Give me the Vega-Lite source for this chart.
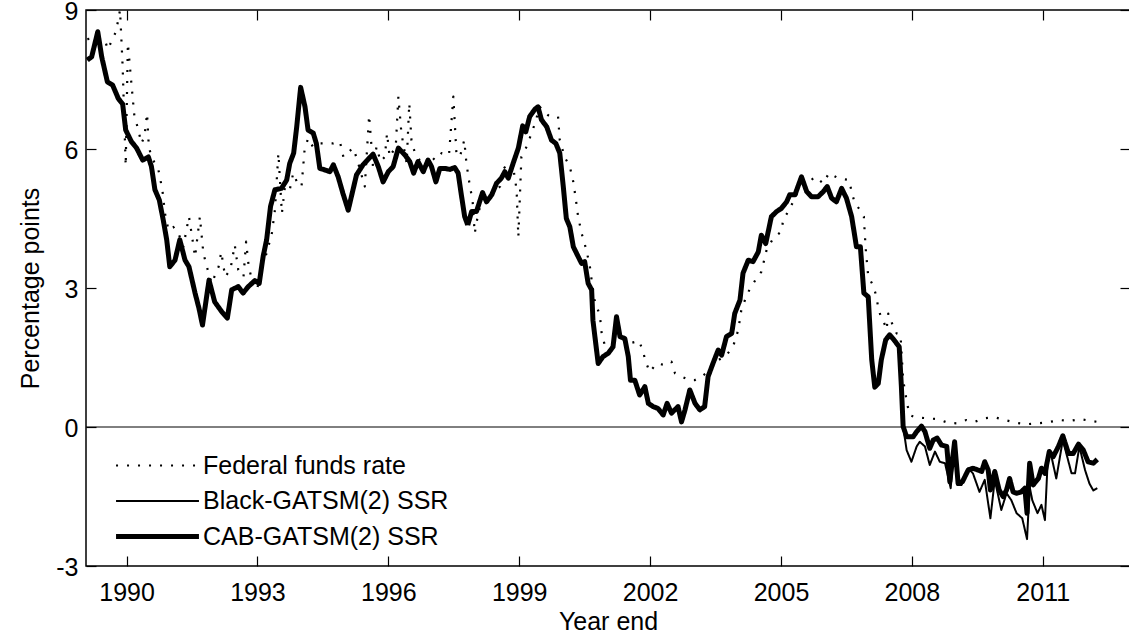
{
  "$schema": "https://vega.github.io/schema/vega-lite/v6.json",
  "width": 1044,
  "height": 556,
  "autosize": {"type": "none"},
  "padding": {"left": 86, "top": 10, "right": 0, "bottom": 72},
  "background": "white",
  "config": {
    "view": {"stroke": "black", "strokeWidth": 1.5},
    "font": "Liberation Sans",
    "axis": {"labelFont": "Liberation Sans", "labelFontSize": 25, "labelColor": "black", "titleFont": "Liberation Sans", "titleFontSize": 25, "titleFontWeight": "normal", "titleColor": "black", "tickColor": "black", "tickWidth": 1.2, "tickSize": -10, "domain": false, "grid": false},
    "legend": {"orient": "none", "legendX": 59, "legendY": 443, "padding": 0, "title": null, "symbolType": "M-5,0H5", "symbolSize": 275, "symbolStrokeColor": "black", "labelFont": "Liberation Sans", "labelFontSize": 25, "labelColor": "black", "labelOffset": 33, "labelLimit": 0, "rowPadding": 9.5}
  },
  "resolve": {"axis": {"x": "independent", "y": "independent"}},
  "layer": [
    {
      "data": {"values": [{"z": 0}]},
      "mark": {"type": "rule", "color": "black", "strokeWidth": 1},
      "encoding": {"y": {"field": "z", "type": "quantitative", "scale": {"domain": [-3, 9], "nice": false, "zero": false}, "axis": null}}
    },
    {
      "data": {"values": [
        {"t":1989.10,"s":"Federal funds rate","v":8.37},{"t":1989.30,"s":"Federal funds rate","v":8.40},{"t":1989.50,"s":"Federal funds rate","v":8.36},{"t":1989.57,"s":"Federal funds rate","v":8.15},{"t":1989.76,"s":"Federal funds rate","v":8.54},{"t":1989.85,"s":"Federal funds rate","v":9.00},{"t":1989.91,"s":"Federal funds rate","v":7.78},{"t":1989.98,"s":"Federal funds rate","v":5.64},{"t":1990.03,"s":"Federal funds rate","v":8.28},{"t":1990.11,"s":"Federal funds rate","v":7.42},{"t":1990.18,"s":"Federal funds rate","v":6.70},{"t":1990.26,"s":"Federal funds rate","v":6.45},{"t":1990.34,"s":"Federal funds rate","v":6.12},{"t":1990.41,"s":"Federal funds rate","v":6.27},{"t":1990.47,"s":"Federal funds rate","v":6.77},{"t":1990.51,"s":"Federal funds rate","v":6.05},{"t":1990.57,"s":"Federal funds rate","v":5.83},{"t":1990.73,"s":"Federal funds rate","v":5.55},{"t":1990.82,"s":"Federal funds rate","v":5.12},{"t":1990.88,"s":"Federal funds rate","v":4.61},{"t":1990.96,"s":"Federal funds rate","v":4.25},{"t":1991.07,"s":"Federal funds rate","v":4.32},{"t":1991.19,"s":"Federal funds rate","v":4.18},{"t":1991.30,"s":"Federal funds rate","v":3.89},{"t":1991.43,"s":"Federal funds rate","v":4.54},{"t":1991.49,"s":"Federal funds rate","v":4.18},{"t":1991.57,"s":"Federal funds rate","v":3.67},{"t":1991.68,"s":"Federal funds rate","v":4.54},{"t":1991.76,"s":"Federal funds rate","v":3.75},{"t":1991.84,"s":"Federal funds rate","v":3.46},{"t":1991.95,"s":"Federal funds rate","v":3.10},{"t":1992.11,"s":"Federal funds rate","v":3.46},{"t":1992.17,"s":"Federal funds rate","v":3.78},{"t":1992.26,"s":"Federal funds rate","v":3.24},{"t":1992.38,"s":"Federal funds rate","v":3.40},{"t":1992.48,"s":"Federal funds rate","v":3.93},{"t":1992.56,"s":"Federal funds rate","v":3.39},{"t":1992.68,"s":"Federal funds rate","v":3.24},{"t":1992.74,"s":"Federal funds rate","v":4.00},{"t":1992.80,"s":"Federal funds rate","v":3.46},{"t":1992.91,"s":"Federal funds rate","v":3.03},{"t":1992.99,"s":"Federal funds rate","v":2.96},{"t":1993.10,"s":"Federal funds rate","v":3.46},{"t":1993.21,"s":"Federal funds rate","v":3.75},{"t":1993.33,"s":"Federal funds rate","v":4.18},{"t":1993.40,"s":"Federal funds rate","v":4.68},{"t":1993.48,"s":"Federal funds rate","v":5.91},{"t":1993.56,"s":"Federal funds rate","v":4.61},{"t":1993.63,"s":"Federal funds rate","v":5.19},{"t":1993.74,"s":"Federal funds rate","v":5.12},{"t":1993.82,"s":"Federal funds rate","v":5.48},{"t":1993.93,"s":"Federal funds rate","v":5.23},{"t":1994.01,"s":"Federal funds rate","v":5.19},{"t":1994.08,"s":"Federal funds rate","v":5.98},{"t":1994.16,"s":"Federal funds rate","v":6.23},{"t":1994.27,"s":"Federal funds rate","v":6.05},{"t":1994.39,"s":"Federal funds rate","v":6.12},{"t":1994.54,"s":"Federal funds rate","v":6.12},{"t":1994.74,"s":"Federal funds rate","v":6.12},{"t":1994.89,"s":"Federal funds rate","v":6.16},{"t":1994.97,"s":"Federal funds rate","v":5.83},{"t":1995.10,"s":"Federal funds rate","v":5.95},{"t":1995.20,"s":"Federal funds rate","v":6.02},{"t":1995.31,"s":"Federal funds rate","v":5.69},{"t":1995.46,"s":"Federal funds rate","v":5.19},{"t":1995.56,"s":"Federal funds rate","v":6.73},{"t":1995.65,"s":"Federal funds rate","v":5.60},{"t":1995.73,"s":"Federal funds rate","v":6.05},{"t":1995.82,"s":"Federal funds rate","v":5.73},{"t":1995.92,"s":"Federal funds rate","v":5.83},{"t":1995.97,"s":"Federal funds rate","v":6.34},{"t":1996.03,"s":"Federal funds rate","v":5.83},{"t":1996.17,"s":"Federal funds rate","v":6.05},{"t":1996.23,"s":"Federal funds rate","v":7.13},{"t":1996.30,"s":"Federal funds rate","v":6.34},{"t":1996.42,"s":"Federal funds rate","v":5.69},{"t":1996.48,"s":"Federal funds rate","v":6.99},{"t":1996.53,"s":"Federal funds rate","v":6.19},{"t":1996.61,"s":"Federal funds rate","v":5.91},{"t":1996.72,"s":"Federal funds rate","v":5.76},{"t":1996.84,"s":"Federal funds rate","v":5.69},{"t":1996.95,"s":"Federal funds rate","v":5.87},{"t":1997.07,"s":"Federal funds rate","v":5.76},{"t":1997.22,"s":"Federal funds rate","v":5.91},{"t":1997.39,"s":"Federal funds rate","v":5.87},{"t":1997.49,"s":"Federal funds rate","v":7.13},{"t":1997.56,"s":"Federal funds rate","v":5.91},{"t":1997.64,"s":"Federal funds rate","v":5.83},{"t":1997.74,"s":"Federal funds rate","v":6.19},{"t":1997.79,"s":"Federal funds rate","v":5.69},{"t":1997.87,"s":"Federal funds rate","v":5.19},{"t":1997.93,"s":"Federal funds rate","v":4.90},{"t":1997.98,"s":"Federal funds rate","v":4.18},{"t":1998.06,"s":"Federal funds rate","v":4.61},{"t":1998.17,"s":"Federal funds rate","v":4.97},{"t":1998.29,"s":"Federal funds rate","v":5.05},{"t":1998.40,"s":"Federal funds rate","v":5.05},{"t":1998.56,"s":"Federal funds rate","v":5.19},{"t":1998.65,"s":"Federal funds rate","v":5.62},{"t":1998.75,"s":"Federal funds rate","v":5.48},{"t":1998.86,"s":"Federal funds rate","v":5.62},{"t":1998.94,"s":"Federal funds rate","v":5.12},{"t":1998.98,"s":"Federal funds rate","v":4.10},{"t":1999.05,"s":"Federal funds rate","v":5.83},{"t":1999.17,"s":"Federal funds rate","v":6.05},{"t":1999.24,"s":"Federal funds rate","v":6.23},{"t":1999.36,"s":"Federal funds rate","v":6.55},{"t":1999.47,"s":"Federal funds rate","v":6.91},{"t":1999.66,"s":"Federal funds rate","v":6.73},{"t":1999.89,"s":"Federal funds rate","v":6.70},{"t":1999.93,"s":"Federal funds rate","v":6.19},{"t":2000.04,"s":"Federal funds rate","v":5.83},{"t":2000.16,"s":"Federal funds rate","v":5.62},{"t":2000.24,"s":"Federal funds rate","v":5.29},{"t":2000.30,"s":"Federal funds rate","v":4.90},{"t":2000.35,"s":"Federal funds rate","v":4.54},{"t":2000.43,"s":"Federal funds rate","v":4.18},{"t":2000.54,"s":"Federal funds rate","v":3.82},{"t":2000.62,"s":"Federal funds rate","v":3.46},{"t":2000.68,"s":"Federal funds rate","v":3.03},{"t":2000.73,"s":"Federal funds rate","v":2.74},{"t":2000.85,"s":"Federal funds rate","v":2.40},{"t":2000.89,"s":"Federal funds rate","v":2.02},{"t":2000.96,"s":"Federal funds rate","v":1.77},{"t":2001.15,"s":"Federal funds rate","v":1.80},{"t":2001.38,"s":"Federal funds rate","v":1.88},{"t":2001.50,"s":"Federal funds rate","v":1.80},{"t":2001.75,"s":"Federal funds rate","v":1.86},{"t":2001.84,"s":"Federal funds rate","v":1.62},{"t":2001.90,"s":"Federal funds rate","v":1.41},{"t":2001.99,"s":"Federal funds rate","v":1.19},{"t":2002.15,"s":"Federal funds rate","v":1.37},{"t":2002.34,"s":"Federal funds rate","v":1.34},{"t":2002.49,"s":"Federal funds rate","v":1.41},{"t":2002.57,"s":"Federal funds rate","v":1.16},{"t":2002.72,"s":"Federal funds rate","v":1.09},{"t":2002.91,"s":"Federal funds rate","v":1.01},{"t":2003.02,"s":"Federal funds rate","v":1.01},{"t":2003.18,"s":"Federal funds rate","v":1.09},{"t":2003.33,"s":"Federal funds rate","v":1.19},{"t":2003.44,"s":"Federal funds rate","v":1.34},{"t":2003.56,"s":"Federal funds rate","v":1.44},{"t":2003.75,"s":"Federal funds rate","v":1.55},{"t":2003.90,"s":"Federal funds rate","v":1.73},{"t":2004.02,"s":"Federal funds rate","v":2.09},{"t":2004.09,"s":"Federal funds rate","v":2.52},{"t":2004.19,"s":"Federal funds rate","v":2.78},{"t":2004.29,"s":"Federal funds rate","v":2.99},{"t":2004.44,"s":"Federal funds rate","v":3.21},{"t":2004.55,"s":"Federal funds rate","v":3.35},{"t":2004.67,"s":"Federal funds rate","v":3.82},{"t":2004.82,"s":"Federal funds rate","v":4.07},{"t":2005.01,"s":"Federal funds rate","v":4.22},{"t":2005.05,"s":"Federal funds rate","v":4.47},{"t":2005.19,"s":"Federal funds rate","v":4.69},{"t":2005.39,"s":"Federal funds rate","v":5.08},{"t":2005.78,"s":"Federal funds rate","v":5.40},{"t":2005.97,"s":"Federal funds rate","v":5.26},{"t":2006.10,"s":"Federal funds rate","v":5.48},{"t":2006.31,"s":"Federal funds rate","v":5.37},{"t":2006.56,"s":"Federal funds rate","v":5.33},{"t":2006.62,"s":"Federal funds rate","v":5.08},{"t":2006.69,"s":"Federal funds rate","v":4.83},{"t":2006.81,"s":"Federal funds rate","v":4.69},{"t":2006.90,"s":"Federal funds rate","v":4.54},{"t":2006.92,"s":"Federal funds rate","v":4.18},{"t":2006.95,"s":"Federal funds rate","v":3.75},{"t":2007.00,"s":"Federal funds rate","v":3.25},{"t":2007.11,"s":"Federal funds rate","v":3.06},{"t":2007.19,"s":"Federal funds rate","v":2.81},{"t":2007.23,"s":"Federal funds rate","v":2.56},{"t":2007.30,"s":"Federal funds rate","v":2.35},{"t":2007.34,"s":"Federal funds rate","v":2.31},{"t":2007.42,"s":"Federal funds rate","v":2.10},{"t":2007.46,"s":"Federal funds rate","v":2.45},{"t":2007.53,"s":"Federal funds rate","v":2.27},{"t":2007.65,"s":"Federal funds rate","v":2.02},{"t":2007.74,"s":"Federal funds rate","v":1.99},{"t":2007.80,"s":"Federal funds rate","v":1.02},{"t":2007.89,"s":"Federal funds rate","v":0.51},{"t":2007.95,"s":"Federal funds rate","v":0.26},{"t":2008.07,"s":"Federal funds rate","v":0.21},{"t":2008.33,"s":"Federal funds rate","v":0.19},{"t":2008.60,"s":"Federal funds rate","v":0.17},{"t":2008.83,"s":"Federal funds rate","v":0.09},{"t":2009.02,"s":"Federal funds rate","v":0.08},{"t":2009.25,"s":"Federal funds rate","v":0.15},{"t":2009.44,"s":"Federal funds rate","v":0.11},{"t":2009.67,"s":"Federal funds rate","v":0.19},{"t":2009.90,"s":"Federal funds rate","v":0.21},{"t":2010.13,"s":"Federal funds rate","v":0.15},{"t":2010.40,"s":"Federal funds rate","v":0.09},{"t":2010.63,"s":"Federal funds rate","v":0.06},{"t":2010.89,"s":"Federal funds rate","v":0.08},{"t":2011.16,"s":"Federal funds rate","v":0.11},{"t":2011.39,"s":"Federal funds rate","v":0.15},{"t":2011.62,"s":"Federal funds rate","v":0.13},{"t":2011.85,"s":"Federal funds rate","v":0.17},{"t":2012.12,"s":"Federal funds rate","v":0.13},{"t":2012.38,"s":"Federal funds rate","v":0.09},

        {"t":1989.10,"s":"Black-GATSM(2) SSR","v":7.92},{"t":1989.20,"s":"Black-GATSM(2) SSR","v":7.99},{"t":1989.34,"s":"Black-GATSM(2) SSR","v":8.53},{"t":1989.43,"s":"Black-GATSM(2) SSR","v":7.99},{"t":1989.56,"s":"Black-GATSM(2) SSR","v":7.45},{"t":1989.68,"s":"Black-GATSM(2) SSR","v":7.38},{"t":1989.81,"s":"Black-GATSM(2) SSR","v":7.09},{"t":1989.91,"s":"Black-GATSM(2) SSR","v":6.97},{"t":1989.98,"s":"Black-GATSM(2) SSR","v":6.41},{"t":1990.11,"s":"Black-GATSM(2) SSR","v":6.16},{"t":1990.23,"s":"Black-GATSM(2) SSR","v":6.02},{"t":1990.37,"s":"Black-GATSM(2) SSR","v":5.76},{"t":1990.50,"s":"Black-GATSM(2) SSR","v":5.83},{"t":1990.57,"s":"Black-GATSM(2) SSR","v":5.62},{"t":1990.65,"s":"Black-GATSM(2) SSR","v":5.12},{"t":1990.75,"s":"Black-GATSM(2) SSR","v":4.90},{"t":1990.84,"s":"Black-GATSM(2) SSR","v":4.47},{"t":1990.92,"s":"Black-GATSM(2) SSR","v":4.04},{"t":1990.99,"s":"Black-GATSM(2) SSR","v":3.46},{"t":1991.11,"s":"Black-GATSM(2) SSR","v":3.60},{"t":1991.22,"s":"Black-GATSM(2) SSR","v":4.04},{"t":1991.34,"s":"Black-GATSM(2) SSR","v":3.60},{"t":1991.43,"s":"Black-GATSM(2) SSR","v":3.46},{"t":1991.57,"s":"Black-GATSM(2) SSR","v":2.89},{"t":1991.66,"s":"Black-GATSM(2) SSR","v":2.56},{"t":1991.74,"s":"Black-GATSM(2) SSR","v":2.20},{"t":1991.89,"s":"Black-GATSM(2) SSR","v":3.17},{"t":1992.02,"s":"Black-GATSM(2) SSR","v":2.70},{"t":1992.18,"s":"Black-GATSM(2) SSR","v":2.49},{"t":1992.31,"s":"Black-GATSM(2) SSR","v":2.35},{"t":1992.41,"s":"Black-GATSM(2) SSR","v":2.96},{"t":1992.56,"s":"Black-GATSM(2) SSR","v":3.03},{"t":1992.67,"s":"Black-GATSM(2) SSR","v":2.89},{"t":1992.79,"s":"Black-GATSM(2) SSR","v":3.03},{"t":1992.94,"s":"Black-GATSM(2) SSR","v":3.16},{"t":1993.04,"s":"Black-GATSM(2) SSR","v":3.10},{"t":1993.13,"s":"Black-GATSM(2) SSR","v":3.68},{"t":1993.21,"s":"Black-GATSM(2) SSR","v":4.04},{"t":1993.30,"s":"Black-GATSM(2) SSR","v":4.76},{"t":1993.40,"s":"Black-GATSM(2) SSR","v":5.12},{"t":1993.55,"s":"Black-GATSM(2) SSR","v":5.15},{"t":1993.67,"s":"Black-GATSM(2) SSR","v":5.33},{"t":1993.74,"s":"Black-GATSM(2) SSR","v":5.69},{"t":1993.83,"s":"Black-GATSM(2) SSR","v":5.91},{"t":1993.90,"s":"Black-GATSM(2) SSR","v":6.48},{"t":1993.99,"s":"Black-GATSM(2) SSR","v":7.33},{"t":1994.09,"s":"Black-GATSM(2) SSR","v":6.91},{"t":1994.16,"s":"Black-GATSM(2) SSR","v":6.41},{"t":1994.28,"s":"Black-GATSM(2) SSR","v":6.34},{"t":1994.35,"s":"Black-GATSM(2) SSR","v":6.12},{"t":1994.43,"s":"Black-GATSM(2) SSR","v":5.58},{"t":1994.54,"s":"Black-GATSM(2) SSR","v":5.55},{"t":1994.66,"s":"Black-GATSM(2) SSR","v":5.51},{"t":1994.74,"s":"Black-GATSM(2) SSR","v":5.66},{"t":1994.85,"s":"Black-GATSM(2) SSR","v":5.40},{"t":1994.96,"s":"Black-GATSM(2) SSR","v":5.04},{"t":1995.08,"s":"Black-GATSM(2) SSR","v":4.68},{"t":1995.19,"s":"Black-GATSM(2) SSR","v":5.12},{"t":1995.27,"s":"Black-GATSM(2) SSR","v":5.44},{"t":1995.42,"s":"Black-GATSM(2) SSR","v":5.66},{"t":1995.52,"s":"Black-GATSM(2) SSR","v":5.76},{"t":1995.65,"s":"Black-GATSM(2) SSR","v":5.89},{"t":1995.77,"s":"Black-GATSM(2) SSR","v":5.62},{"t":1995.88,"s":"Black-GATSM(2) SSR","v":5.29},{"t":1996.00,"s":"Black-GATSM(2) SSR","v":5.51},{"t":1996.11,"s":"Black-GATSM(2) SSR","v":5.62},{"t":1996.23,"s":"Black-GATSM(2) SSR","v":6.02},{"t":1996.38,"s":"Black-GATSM(2) SSR","v":5.87},{"t":1996.49,"s":"Black-GATSM(2) SSR","v":5.73},{"t":1996.58,"s":"Black-GATSM(2) SSR","v":5.48},{"t":1996.68,"s":"Black-GATSM(2) SSR","v":5.73},{"t":1996.80,"s":"Black-GATSM(2) SSR","v":5.51},{"t":1996.91,"s":"Black-GATSM(2) SSR","v":5.76},{"t":1996.99,"s":"Black-GATSM(2) SSR","v":5.62},{"t":1997.09,"s":"Black-GATSM(2) SSR","v":5.29},{"t":1997.18,"s":"Black-GATSM(2) SSR","v":5.58},{"t":1997.30,"s":"Black-GATSM(2) SSR","v":5.58},{"t":1997.41,"s":"Black-GATSM(2) SSR","v":5.56},{"t":1997.52,"s":"Black-GATSM(2) SSR","v":5.60},{"t":1997.60,"s":"Black-GATSM(2) SSR","v":5.48},{"t":1997.68,"s":"Black-GATSM(2) SSR","v":4.97},{"t":1997.75,"s":"Black-GATSM(2) SSR","v":4.54},{"t":1997.82,"s":"Black-GATSM(2) SSR","v":4.36},{"t":1997.91,"s":"Black-GATSM(2) SSR","v":4.65},{"t":1998.02,"s":"Black-GATSM(2) SSR","v":4.65},{"t":1998.16,"s":"Black-GATSM(2) SSR","v":5.06},{"t":1998.25,"s":"Black-GATSM(2) SSR","v":4.86},{"t":1998.37,"s":"Black-GATSM(2) SSR","v":5.01},{"t":1998.48,"s":"Black-GATSM(2) SSR","v":5.26},{"t":1998.59,"s":"Black-GATSM(2) SSR","v":5.37},{"t":1998.67,"s":"Black-GATSM(2) SSR","v":5.51},{"t":1998.75,"s":"Black-GATSM(2) SSR","v":5.37},{"t":1998.86,"s":"Black-GATSM(2) SSR","v":5.69},{"t":1998.98,"s":"Black-GATSM(2) SSR","v":6.02},{"t":1999.08,"s":"Black-GATSM(2) SSR","v":6.50},{"t":1999.15,"s":"Black-GATSM(2) SSR","v":6.37},{"t":1999.24,"s":"Black-GATSM(2) SSR","v":6.70},{"t":1999.36,"s":"Black-GATSM(2) SSR","v":6.86},{"t":1999.43,"s":"Black-GATSM(2) SSR","v":6.91},{"t":1999.51,"s":"Black-GATSM(2) SSR","v":6.63},{"t":1999.63,"s":"Black-GATSM(2) SSR","v":6.48},{"t":1999.74,"s":"Black-GATSM(2) SSR","v":6.19},{"t":1999.84,"s":"Black-GATSM(2) SSR","v":6.12},{"t":1999.93,"s":"Black-GATSM(2) SSR","v":5.91},{"t":2000.01,"s":"Black-GATSM(2) SSR","v":5.19},{"t":2000.08,"s":"Black-GATSM(2) SSR","v":4.50},{"t":2000.16,"s":"Black-GATSM(2) SSR","v":4.32},{"t":2000.24,"s":"Black-GATSM(2) SSR","v":3.89},{"t":2000.35,"s":"Black-GATSM(2) SSR","v":3.68},{"t":2000.43,"s":"Black-GATSM(2) SSR","v":3.53},{"t":2000.50,"s":"Black-GATSM(2) SSR","v":3.57},{"t":2000.58,"s":"Black-GATSM(2) SSR","v":3.10},{"t":2000.66,"s":"Black-GATSM(2) SSR","v":2.96},{"t":2000.69,"s":"Black-GATSM(2) SSR","v":2.30},{"t":2000.81,"s":"Black-GATSM(2) SSR","v":1.37},{"t":2000.92,"s":"Black-GATSM(2) SSR","v":1.52},{"t":2001.04,"s":"Black-GATSM(2) SSR","v":1.59},{"t":2001.15,"s":"Black-GATSM(2) SSR","v":1.73},{"t":2001.23,"s":"Black-GATSM(2) SSR","v":2.38},{"t":2001.31,"s":"Black-GATSM(2) SSR","v":1.95},{"t":2001.42,"s":"Black-GATSM(2) SSR","v":1.91},{"t":2001.50,"s":"Black-GATSM(2) SSR","v":1.52},{"t":2001.55,"s":"Black-GATSM(2) SSR","v":1.01},{"t":2001.65,"s":"Black-GATSM(2) SSR","v":1.01},{"t":2001.76,"s":"Black-GATSM(2) SSR","v":0.69},{"t":2001.88,"s":"Black-GATSM(2) SSR","v":0.87},{"t":2001.96,"s":"Black-GATSM(2) SSR","v":0.51},{"t":2002.07,"s":"Black-GATSM(2) SSR","v":0.44},{"t":2002.18,"s":"Black-GATSM(2) SSR","v":0.40},{"t":2002.30,"s":"Black-GATSM(2) SSR","v":0.26},{"t":2002.39,"s":"Black-GATSM(2) SSR","v":0.51},{"t":2002.49,"s":"Black-GATSM(2) SSR","v":0.30},{"t":2002.64,"s":"Black-GATSM(2) SSR","v":0.44},{"t":2002.72,"s":"Black-GATSM(2) SSR","v":0.11},{"t":2002.80,"s":"Black-GATSM(2) SSR","v":0.37},{"t":2002.91,"s":"Black-GATSM(2) SSR","v":0.80},{"t":2003.03,"s":"Black-GATSM(2) SSR","v":0.51},{"t":2003.14,"s":"Black-GATSM(2) SSR","v":0.37},{"t":2003.25,"s":"Black-GATSM(2) SSR","v":0.44},{"t":2003.33,"s":"Black-GATSM(2) SSR","v":1.09},{"t":2003.44,"s":"Black-GATSM(2) SSR","v":1.37},{"t":2003.56,"s":"Black-GATSM(2) SSR","v":1.66},{"t":2003.64,"s":"Black-GATSM(2) SSR","v":1.55},{"t":2003.75,"s":"Black-GATSM(2) SSR","v":1.95},{"t":2003.87,"s":"Black-GATSM(2) SSR","v":2.02},{"t":2003.94,"s":"Black-GATSM(2) SSR","v":2.45},{"t":2004.06,"s":"Black-GATSM(2) SSR","v":2.74},{"t":2004.13,"s":"Black-GATSM(2) SSR","v":3.32},{"t":2004.25,"s":"Black-GATSM(2) SSR","v":3.60},{"t":2004.36,"s":"Black-GATSM(2) SSR","v":3.57},{"t":2004.48,"s":"Black-GATSM(2) SSR","v":3.78},{"t":2004.55,"s":"Black-GATSM(2) SSR","v":4.14},{"t":2004.65,"s":"Black-GATSM(2) SSR","v":3.96},{"t":2004.78,"s":"Black-GATSM(2) SSR","v":4.54},{"t":2004.90,"s":"Black-GATSM(2) SSR","v":4.65},{"t":2005.01,"s":"Black-GATSM(2) SSR","v":4.72},{"t":2005.13,"s":"Black-GATSM(2) SSR","v":4.86},{"t":2005.20,"s":"Black-GATSM(2) SSR","v":5.01},{"t":2005.32,"s":"Black-GATSM(2) SSR","v":5.01},{"t":2005.47,"s":"Black-GATSM(2) SSR","v":5.40},{"t":2005.59,"s":"Black-GATSM(2) SSR","v":5.08},{"t":2005.70,"s":"Black-GATSM(2) SSR","v":4.97},{"t":2005.85,"s":"Black-GATSM(2) SSR","v":4.97},{"t":2005.97,"s":"Black-GATSM(2) SSR","v":5.08},{"t":2006.06,"s":"Black-GATSM(2) SSR","v":5.19},{"t":2006.16,"s":"Black-GATSM(2) SSR","v":4.94},{"t":2006.27,"s":"Black-GATSM(2) SSR","v":4.86},{"t":2006.39,"s":"Black-GATSM(2) SSR","v":5.15},{"t":2006.50,"s":"Black-GATSM(2) SSR","v":4.94},{"t":2006.62,"s":"Black-GATSM(2) SSR","v":4.54},{"t":2006.73,"s":"Black-GATSM(2) SSR","v":3.89},{"t":2006.82,"s":"Black-GATSM(2) SSR","v":3.89},{"t":2006.90,"s":"Black-GATSM(2) SSR","v":2.89},{"t":2007.00,"s":"Black-GATSM(2) SSR","v":2.81},{"t":2007.08,"s":"Black-GATSM(2) SSR","v":1.45},{"t":2007.15,"s":"Black-GATSM(2) SSR","v":0.86},{"t":2007.23,"s":"Black-GATSM(2) SSR","v":0.94},{"t":2007.30,"s":"Black-GATSM(2) SSR","v":1.45},{"t":2007.40,"s":"Black-GATSM(2) SSR","v":1.88},{"t":2007.49,"s":"Black-GATSM(2) SSR","v":1.99},{"t":2007.59,"s":"Black-GATSM(2) SSR","v":1.88},{"t":2007.71,"s":"Black-GATSM(2) SSR","v":1.73},{"t":2007.76,"s":"Black-GATSM(2) SSR","v":0.87},{"t":2007.80,"s":"Black-GATSM(2) SSR","v":0.01},{"t":2007.88,"s":"Black-GATSM(2) SSR","v":-0.50},{"t":2007.99,"s":"Black-GATSM(2) SSR","v":-0.75},{"t":2008.11,"s":"Black-GATSM(2) SSR","v":-0.42},{"t":2008.18,"s":"Black-GATSM(2) SSR","v":-0.32},{"t":2008.30,"s":"Black-GATSM(2) SSR","v":-0.42},{"t":2008.41,"s":"Black-GATSM(2) SSR","v":-0.82},{"t":2008.53,"s":"Black-GATSM(2) SSR","v":-0.53},{"t":2008.64,"s":"Black-GATSM(2) SSR","v":-0.75},{"t":2008.76,"s":"Black-GATSM(2) SSR","v":-0.78},{"t":2008.89,"s":"Black-GATSM(2) SSR","v":-1.32},{"t":2008.98,"s":"Black-GATSM(2) SSR","v":-0.32},{"t":2009.05,"s":"Black-GATSM(2) SSR","v":-1.25},{"t":2009.14,"s":"Black-GATSM(2) SSR","v":-1.25},{"t":2009.29,"s":"Black-GATSM(2) SSR","v":-0.89},{"t":2009.40,"s":"Black-GATSM(2) SSR","v":-1.00},{"t":2009.55,"s":"Black-GATSM(2) SSR","v":-1.40},{"t":2009.67,"s":"Black-GATSM(2) SSR","v":-1.14},{"t":2009.80,"s":"Black-GATSM(2) SSR","v":-1.97},{"t":2009.90,"s":"Black-GATSM(2) SSR","v":-1.14},{"t":2010.05,"s":"Black-GATSM(2) SSR","v":-1.79},{"t":2010.17,"s":"Black-GATSM(2) SSR","v":-1.43},{"t":2010.28,"s":"Black-GATSM(2) SSR","v":-1.58},{"t":2010.40,"s":"Black-GATSM(2) SSR","v":-1.86},{"t":2010.53,"s":"Black-GATSM(2) SSR","v":-1.97},{"t":2010.64,"s":"Black-GATSM(2) SSR","v":-2.42},{"t":2010.70,"s":"Black-GATSM(2) SSR","v":-1.29},{"t":2010.76,"s":"Black-GATSM(2) SSR","v":-1.58},{"t":2010.88,"s":"Black-GATSM(2) SSR","v":-1.86},{"t":2010.97,"s":"Black-GATSM(2) SSR","v":-1.68},{"t":2011.05,"s":"Black-GATSM(2) SSR","v":-2.01},{"t":2011.12,"s":"Black-GATSM(2) SSR","v":-0.60},{"t":2011.20,"s":"Black-GATSM(2) SSR","v":-0.64},{"t":2011.31,"s":"Black-GATSM(2) SSR","v":-1.11},{"t":2011.46,"s":"Black-GATSM(2) SSR","v":-0.28},{"t":2011.56,"s":"Black-GATSM(2) SSR","v":-0.64},{"t":2011.66,"s":"Black-GATSM(2) SSR","v":-1.00},{"t":2011.74,"s":"Black-GATSM(2) SSR","v":-1.00},{"t":2011.84,"s":"Black-GATSM(2) SSR","v":-0.42},{"t":2011.97,"s":"Black-GATSM(2) SSR","v":-0.93},{"t":2012.07,"s":"Black-GATSM(2) SSR","v":-1.22},{"t":2012.16,"s":"Black-GATSM(2) SSR","v":-1.37},{"t":2012.25,"s":"Black-GATSM(2) SSR","v":-1.32},

        {"t":1989.10,"s":"CAB-GATSM(2) SSR","v":7.92},{"t":1989.20,"s":"CAB-GATSM(2) SSR","v":7.99},{"t":1989.34,"s":"CAB-GATSM(2) SSR","v":8.53},{"t":1989.43,"s":"CAB-GATSM(2) SSR","v":7.99},{"t":1989.56,"s":"CAB-GATSM(2) SSR","v":7.45},{"t":1989.68,"s":"CAB-GATSM(2) SSR","v":7.38},{"t":1989.81,"s":"CAB-GATSM(2) SSR","v":7.09},{"t":1989.91,"s":"CAB-GATSM(2) SSR","v":6.97},{"t":1989.98,"s":"CAB-GATSM(2) SSR","v":6.41},{"t":1990.11,"s":"CAB-GATSM(2) SSR","v":6.16},{"t":1990.23,"s":"CAB-GATSM(2) SSR","v":6.02},{"t":1990.37,"s":"CAB-GATSM(2) SSR","v":5.76},{"t":1990.50,"s":"CAB-GATSM(2) SSR","v":5.83},{"t":1990.57,"s":"CAB-GATSM(2) SSR","v":5.62},{"t":1990.65,"s":"CAB-GATSM(2) SSR","v":5.12},{"t":1990.75,"s":"CAB-GATSM(2) SSR","v":4.90},{"t":1990.84,"s":"CAB-GATSM(2) SSR","v":4.47},{"t":1990.92,"s":"CAB-GATSM(2) SSR","v":4.04},{"t":1990.99,"s":"CAB-GATSM(2) SSR","v":3.46},{"t":1991.11,"s":"CAB-GATSM(2) SSR","v":3.60},{"t":1991.22,"s":"CAB-GATSM(2) SSR","v":4.04},{"t":1991.34,"s":"CAB-GATSM(2) SSR","v":3.60},{"t":1991.43,"s":"CAB-GATSM(2) SSR","v":3.46},{"t":1991.57,"s":"CAB-GATSM(2) SSR","v":2.89},{"t":1991.66,"s":"CAB-GATSM(2) SSR","v":2.56},{"t":1991.74,"s":"CAB-GATSM(2) SSR","v":2.20},{"t":1991.89,"s":"CAB-GATSM(2) SSR","v":3.17},{"t":1992.02,"s":"CAB-GATSM(2) SSR","v":2.70},{"t":1992.18,"s":"CAB-GATSM(2) SSR","v":2.49},{"t":1992.31,"s":"CAB-GATSM(2) SSR","v":2.35},{"t":1992.41,"s":"CAB-GATSM(2) SSR","v":2.96},{"t":1992.56,"s":"CAB-GATSM(2) SSR","v":3.03},{"t":1992.67,"s":"CAB-GATSM(2) SSR","v":2.89},{"t":1992.79,"s":"CAB-GATSM(2) SSR","v":3.03},{"t":1992.94,"s":"CAB-GATSM(2) SSR","v":3.16},{"t":1993.04,"s":"CAB-GATSM(2) SSR","v":3.10},{"t":1993.13,"s":"CAB-GATSM(2) SSR","v":3.68},{"t":1993.21,"s":"CAB-GATSM(2) SSR","v":4.04},{"t":1993.30,"s":"CAB-GATSM(2) SSR","v":4.76},{"t":1993.40,"s":"CAB-GATSM(2) SSR","v":5.12},{"t":1993.55,"s":"CAB-GATSM(2) SSR","v":5.15},{"t":1993.67,"s":"CAB-GATSM(2) SSR","v":5.33},{"t":1993.74,"s":"CAB-GATSM(2) SSR","v":5.69},{"t":1993.83,"s":"CAB-GATSM(2) SSR","v":5.91},{"t":1993.90,"s":"CAB-GATSM(2) SSR","v":6.48},{"t":1993.99,"s":"CAB-GATSM(2) SSR","v":7.33},{"t":1994.09,"s":"CAB-GATSM(2) SSR","v":6.91},{"t":1994.16,"s":"CAB-GATSM(2) SSR","v":6.41},{"t":1994.28,"s":"CAB-GATSM(2) SSR","v":6.34},{"t":1994.35,"s":"CAB-GATSM(2) SSR","v":6.12},{"t":1994.43,"s":"CAB-GATSM(2) SSR","v":5.58},{"t":1994.54,"s":"CAB-GATSM(2) SSR","v":5.55},{"t":1994.66,"s":"CAB-GATSM(2) SSR","v":5.51},{"t":1994.74,"s":"CAB-GATSM(2) SSR","v":5.66},{"t":1994.85,"s":"CAB-GATSM(2) SSR","v":5.40},{"t":1994.96,"s":"CAB-GATSM(2) SSR","v":5.04},{"t":1995.08,"s":"CAB-GATSM(2) SSR","v":4.68},{"t":1995.19,"s":"CAB-GATSM(2) SSR","v":5.12},{"t":1995.27,"s":"CAB-GATSM(2) SSR","v":5.44},{"t":1995.42,"s":"CAB-GATSM(2) SSR","v":5.66},{"t":1995.52,"s":"CAB-GATSM(2) SSR","v":5.76},{"t":1995.65,"s":"CAB-GATSM(2) SSR","v":5.89},{"t":1995.77,"s":"CAB-GATSM(2) SSR","v":5.62},{"t":1995.88,"s":"CAB-GATSM(2) SSR","v":5.29},{"t":1996.00,"s":"CAB-GATSM(2) SSR","v":5.51},{"t":1996.11,"s":"CAB-GATSM(2) SSR","v":5.62},{"t":1996.23,"s":"CAB-GATSM(2) SSR","v":6.02},{"t":1996.38,"s":"CAB-GATSM(2) SSR","v":5.87},{"t":1996.49,"s":"CAB-GATSM(2) SSR","v":5.73},{"t":1996.58,"s":"CAB-GATSM(2) SSR","v":5.48},{"t":1996.68,"s":"CAB-GATSM(2) SSR","v":5.73},{"t":1996.80,"s":"CAB-GATSM(2) SSR","v":5.51},{"t":1996.91,"s":"CAB-GATSM(2) SSR","v":5.76},{"t":1996.99,"s":"CAB-GATSM(2) SSR","v":5.62},{"t":1997.09,"s":"CAB-GATSM(2) SSR","v":5.29},{"t":1997.18,"s":"CAB-GATSM(2) SSR","v":5.58},{"t":1997.30,"s":"CAB-GATSM(2) SSR","v":5.58},{"t":1997.41,"s":"CAB-GATSM(2) SSR","v":5.56},{"t":1997.52,"s":"CAB-GATSM(2) SSR","v":5.60},{"t":1997.60,"s":"CAB-GATSM(2) SSR","v":5.48},{"t":1997.68,"s":"CAB-GATSM(2) SSR","v":4.97},{"t":1997.75,"s":"CAB-GATSM(2) SSR","v":4.54},{"t":1997.82,"s":"CAB-GATSM(2) SSR","v":4.36},{"t":1997.91,"s":"CAB-GATSM(2) SSR","v":4.65},{"t":1998.02,"s":"CAB-GATSM(2) SSR","v":4.65},{"t":1998.16,"s":"CAB-GATSM(2) SSR","v":5.06},{"t":1998.25,"s":"CAB-GATSM(2) SSR","v":4.86},{"t":1998.37,"s":"CAB-GATSM(2) SSR","v":5.01},{"t":1998.48,"s":"CAB-GATSM(2) SSR","v":5.26},{"t":1998.59,"s":"CAB-GATSM(2) SSR","v":5.37},{"t":1998.67,"s":"CAB-GATSM(2) SSR","v":5.51},{"t":1998.75,"s":"CAB-GATSM(2) SSR","v":5.37},{"t":1998.86,"s":"CAB-GATSM(2) SSR","v":5.69},{"t":1998.98,"s":"CAB-GATSM(2) SSR","v":6.02},{"t":1999.08,"s":"CAB-GATSM(2) SSR","v":6.50},{"t":1999.15,"s":"CAB-GATSM(2) SSR","v":6.37},{"t":1999.24,"s":"CAB-GATSM(2) SSR","v":6.70},{"t":1999.36,"s":"CAB-GATSM(2) SSR","v":6.86},{"t":1999.43,"s":"CAB-GATSM(2) SSR","v":6.91},{"t":1999.51,"s":"CAB-GATSM(2) SSR","v":6.63},{"t":1999.63,"s":"CAB-GATSM(2) SSR","v":6.48},{"t":1999.74,"s":"CAB-GATSM(2) SSR","v":6.19},{"t":1999.84,"s":"CAB-GATSM(2) SSR","v":6.12},{"t":1999.93,"s":"CAB-GATSM(2) SSR","v":5.91},{"t":2000.01,"s":"CAB-GATSM(2) SSR","v":5.19},{"t":2000.08,"s":"CAB-GATSM(2) SSR","v":4.50},{"t":2000.16,"s":"CAB-GATSM(2) SSR","v":4.32},{"t":2000.24,"s":"CAB-GATSM(2) SSR","v":3.89},{"t":2000.35,"s":"CAB-GATSM(2) SSR","v":3.68},{"t":2000.43,"s":"CAB-GATSM(2) SSR","v":3.53},{"t":2000.50,"s":"CAB-GATSM(2) SSR","v":3.57},{"t":2000.58,"s":"CAB-GATSM(2) SSR","v":3.10},{"t":2000.66,"s":"CAB-GATSM(2) SSR","v":2.96},{"t":2000.69,"s":"CAB-GATSM(2) SSR","v":2.30},{"t":2000.81,"s":"CAB-GATSM(2) SSR","v":1.37},{"t":2000.92,"s":"CAB-GATSM(2) SSR","v":1.52},{"t":2001.04,"s":"CAB-GATSM(2) SSR","v":1.59},{"t":2001.15,"s":"CAB-GATSM(2) SSR","v":1.73},{"t":2001.23,"s":"CAB-GATSM(2) SSR","v":2.38},{"t":2001.31,"s":"CAB-GATSM(2) SSR","v":1.95},{"t":2001.42,"s":"CAB-GATSM(2) SSR","v":1.91},{"t":2001.50,"s":"CAB-GATSM(2) SSR","v":1.52},{"t":2001.55,"s":"CAB-GATSM(2) SSR","v":1.01},{"t":2001.65,"s":"CAB-GATSM(2) SSR","v":1.01},{"t":2001.76,"s":"CAB-GATSM(2) SSR","v":0.69},{"t":2001.88,"s":"CAB-GATSM(2) SSR","v":0.87},{"t":2001.96,"s":"CAB-GATSM(2) SSR","v":0.51},{"t":2002.07,"s":"CAB-GATSM(2) SSR","v":0.44},{"t":2002.18,"s":"CAB-GATSM(2) SSR","v":0.40},{"t":2002.30,"s":"CAB-GATSM(2) SSR","v":0.26},{"t":2002.39,"s":"CAB-GATSM(2) SSR","v":0.51},{"t":2002.49,"s":"CAB-GATSM(2) SSR","v":0.30},{"t":2002.64,"s":"CAB-GATSM(2) SSR","v":0.44},{"t":2002.72,"s":"CAB-GATSM(2) SSR","v":0.11},{"t":2002.80,"s":"CAB-GATSM(2) SSR","v":0.37},{"t":2002.91,"s":"CAB-GATSM(2) SSR","v":0.80},{"t":2003.03,"s":"CAB-GATSM(2) SSR","v":0.51},{"t":2003.14,"s":"CAB-GATSM(2) SSR","v":0.37},{"t":2003.25,"s":"CAB-GATSM(2) SSR","v":0.44},{"t":2003.33,"s":"CAB-GATSM(2) SSR","v":1.09},{"t":2003.44,"s":"CAB-GATSM(2) SSR","v":1.37},{"t":2003.56,"s":"CAB-GATSM(2) SSR","v":1.66},{"t":2003.64,"s":"CAB-GATSM(2) SSR","v":1.55},{"t":2003.75,"s":"CAB-GATSM(2) SSR","v":1.95},{"t":2003.87,"s":"CAB-GATSM(2) SSR","v":2.02},{"t":2003.94,"s":"CAB-GATSM(2) SSR","v":2.45},{"t":2004.06,"s":"CAB-GATSM(2) SSR","v":2.74},{"t":2004.13,"s":"CAB-GATSM(2) SSR","v":3.32},{"t":2004.25,"s":"CAB-GATSM(2) SSR","v":3.60},{"t":2004.36,"s":"CAB-GATSM(2) SSR","v":3.57},{"t":2004.48,"s":"CAB-GATSM(2) SSR","v":3.78},{"t":2004.55,"s":"CAB-GATSM(2) SSR","v":4.14},{"t":2004.65,"s":"CAB-GATSM(2) SSR","v":3.96},{"t":2004.78,"s":"CAB-GATSM(2) SSR","v":4.54},{"t":2004.90,"s":"CAB-GATSM(2) SSR","v":4.65},{"t":2005.01,"s":"CAB-GATSM(2) SSR","v":4.72},{"t":2005.13,"s":"CAB-GATSM(2) SSR","v":4.86},{"t":2005.20,"s":"CAB-GATSM(2) SSR","v":5.01},{"t":2005.32,"s":"CAB-GATSM(2) SSR","v":5.01},{"t":2005.47,"s":"CAB-GATSM(2) SSR","v":5.40},{"t":2005.59,"s":"CAB-GATSM(2) SSR","v":5.08},{"t":2005.70,"s":"CAB-GATSM(2) SSR","v":4.97},{"t":2005.85,"s":"CAB-GATSM(2) SSR","v":4.97},{"t":2005.97,"s":"CAB-GATSM(2) SSR","v":5.08},{"t":2006.06,"s":"CAB-GATSM(2) SSR","v":5.19},{"t":2006.16,"s":"CAB-GATSM(2) SSR","v":4.94},{"t":2006.27,"s":"CAB-GATSM(2) SSR","v":4.86},{"t":2006.39,"s":"CAB-GATSM(2) SSR","v":5.15},{"t":2006.50,"s":"CAB-GATSM(2) SSR","v":4.94},{"t":2006.62,"s":"CAB-GATSM(2) SSR","v":4.54},{"t":2006.73,"s":"CAB-GATSM(2) SSR","v":3.89},{"t":2006.82,"s":"CAB-GATSM(2) SSR","v":3.89},{"t":2006.90,"s":"CAB-GATSM(2) SSR","v":2.89},{"t":2007.00,"s":"CAB-GATSM(2) SSR","v":2.81},{"t":2007.08,"s":"CAB-GATSM(2) SSR","v":1.45},{"t":2007.15,"s":"CAB-GATSM(2) SSR","v":0.86},{"t":2007.23,"s":"CAB-GATSM(2) SSR","v":0.94},{"t":2007.30,"s":"CAB-GATSM(2) SSR","v":1.45},{"t":2007.40,"s":"CAB-GATSM(2) SSR","v":1.88},{"t":2007.49,"s":"CAB-GATSM(2) SSR","v":1.99},{"t":2007.59,"s":"CAB-GATSM(2) SSR","v":1.88},{"t":2007.71,"s":"CAB-GATSM(2) SSR","v":1.73},{"t":2007.76,"s":"CAB-GATSM(2) SSR","v":0.87},{"t":2007.80,"s":"CAB-GATSM(2) SSR","v":0.01},{"t":2007.88,"s":"CAB-GATSM(2) SSR","v":-0.21},{"t":2008.03,"s":"CAB-GATSM(2) SSR","v":-0.21},{"t":2008.11,"s":"CAB-GATSM(2) SSR","v":-0.10},{"t":2008.22,"s":"CAB-GATSM(2) SSR","v":0.02},{"t":2008.30,"s":"CAB-GATSM(2) SSR","v":-0.10},{"t":2008.41,"s":"CAB-GATSM(2) SSR","v":-0.46},{"t":2008.49,"s":"CAB-GATSM(2) SSR","v":-0.28},{"t":2008.58,"s":"CAB-GATSM(2) SSR","v":-0.24},{"t":2008.68,"s":"CAB-GATSM(2) SSR","v":-0.39},{"t":2008.80,"s":"CAB-GATSM(2) SSR","v":-0.42},{"t":2008.87,"s":"CAB-GATSM(2) SSR","v":-1.18},{"t":2008.98,"s":"CAB-GATSM(2) SSR","v":-0.32},{"t":2009.06,"s":"CAB-GATSM(2) SSR","v":-1.22},{"t":2009.16,"s":"CAB-GATSM(2) SSR","v":-1.18},{"t":2009.29,"s":"CAB-GATSM(2) SSR","v":-0.93},{"t":2009.40,"s":"CAB-GATSM(2) SSR","v":-0.89},{"t":2009.52,"s":"CAB-GATSM(2) SSR","v":-0.93},{"t":2009.60,"s":"CAB-GATSM(2) SSR","v":-0.96},{"t":2009.67,"s":"CAB-GATSM(2) SSR","v":-0.75},{"t":2009.75,"s":"CAB-GATSM(2) SSR","v":-0.93},{"t":2009.80,"s":"CAB-GATSM(2) SSR","v":-1.36},{"t":2009.90,"s":"CAB-GATSM(2) SSR","v":-0.96},{"t":2010.00,"s":"CAB-GATSM(2) SSR","v":-1.36},{"t":2010.09,"s":"CAB-GATSM(2) SSR","v":-1.50},{"t":2010.17,"s":"CAB-GATSM(2) SSR","v":-1.36},{"t":2010.24,"s":"CAB-GATSM(2) SSR","v":-1.11},{"t":2010.32,"s":"CAB-GATSM(2) SSR","v":-1.40},{"t":2010.40,"s":"CAB-GATSM(2) SSR","v":-1.43},{"t":2010.51,"s":"CAB-GATSM(2) SSR","v":-1.40},{"t":2010.59,"s":"CAB-GATSM(2) SSR","v":-1.32},{"t":2010.64,"s":"CAB-GATSM(2) SSR","v":-1.86},{"t":2010.70,"s":"CAB-GATSM(2) SSR","v":-0.78},{"t":2010.78,"s":"CAB-GATSM(2) SSR","v":-1.25},{"t":2010.90,"s":"CAB-GATSM(2) SSR","v":-1.11},{"t":2010.97,"s":"CAB-GATSM(2) SSR","v":-0.89},{"t":2011.05,"s":"CAB-GATSM(2) SSR","v":-1.00},{"t":2011.15,"s":"CAB-GATSM(2) SSR","v":-0.53},{"t":2011.24,"s":"CAB-GATSM(2) SSR","v":-0.64},{"t":2011.36,"s":"CAB-GATSM(2) SSR","v":-0.42},{"t":2011.46,"s":"CAB-GATSM(2) SSR","v":-0.19},{"t":2011.59,"s":"CAB-GATSM(2) SSR","v":-0.57},{"t":2011.70,"s":"CAB-GATSM(2) SSR","v":-0.57},{"t":2011.82,"s":"CAB-GATSM(2) SSR","v":-0.37},{"t":2011.93,"s":"CAB-GATSM(2) SSR","v":-0.50},{"t":2012.04,"s":"CAB-GATSM(2) SSR","v":-0.75},{"t":2012.16,"s":"CAB-GATSM(2) SSR","v":-0.78},{"t":2012.25,"s":"CAB-GATSM(2) SSR","v":-0.70}
      ]},
      "mark": {"type": "line", "color": "black", "strokeJoin": "round", "strokeCap": "butt"},
      "encoding": {
        "x": {"field": "t", "type": "quantitative", "scale": {"domain": [1989.07, 2013.0], "nice": false, "zero": false},
              "axis": {"orient": "bottom", "values": [1990, 1993, 1996, 1999, 2002, 2005, 2008, 2011], "format": "d", "title": "Year end", "labelPadding": 24, "titlePadding": 4}},
        "y": {"field": "v", "type": "quantitative", "scale": {"domain": [-3, 9], "nice": false, "zero": false},
              "axis": {"orient": "left", "values": [-3, 0, 3, 6, 9], "labelExpr": "'' + datum.value", "labelOffset": 1.5, "title": "Percentage points", "labelPadding": 18, "titlePadding": 12}},
        "strokeDash": {"field": "s", "type": "nominal", "scale": {"type": "ordinal", "domain": ["Federal funds rate", "Black-GATSM(2) SSR", "CAB-GATSM(2) SSR"], "range": [[2, 9], [1, 0], [1, 0]]}},
        "strokeWidth": {"field": "s", "type": "nominal", "scale": {"type": "ordinal", "domain": ["Federal funds rate", "Black-GATSM(2) SSR", "CAB-GATSM(2) SSR"], "range": [2.2, 2, 5]}}
      }
    },
    {
      "data": {"values": [{"t": 2000, "v": 0}]},
      "mark": {"type": "point", "opacity": 0},
      "encoding": {
        "x": {"field": "t", "type": "quantitative", "scale": {"domain": [1989.07, 2013.0], "nice": false, "zero": false},
              "axis": {"orient": "top", "values": [1990, 1993, 1996, 1999, 2002, 2005, 2008, 2011], "labels": false, "title": null}},
        "y": {"field": "v", "type": "quantitative", "scale": {"domain": [-3, 9], "nice": false, "zero": false},
              "axis": {"orient": "right", "values": [-3, 0, 3, 6, 9], "labels": false, "title": null}}
      }
    }
  ]
}
